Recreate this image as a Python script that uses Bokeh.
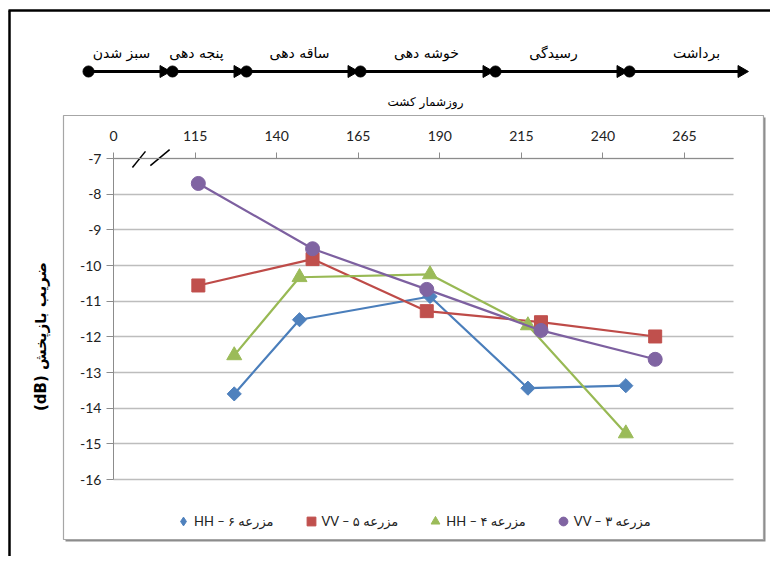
import math
from bokeh.plotting import figure
from bokeh.models import Range1d, FixedTicker, Legend, LegendItem
from bokeh.embed import file_html
from bokeh.resources import INLINE
from bokeh.core.properties import value

# ---------------- data ----------------
days_vv = [116, 151, 186, 221, 256]          # farms 3 and 5 (VV)
days_hh = [127, 147, 187, 217, 247]          # farms 4 and 6 (HH)
hh6 = [-13.60, -11.52, -10.87, -13.44, -13.37]
vv5 = [-10.56, -9.82, -11.28, -11.59, -11.99]
hh4 = [-12.52, -10.33, -10.25, -11.68, -14.71]
vv3 = [-7.70, -9.53, -10.67, -11.82, -12.63]
series_labels = ["HH – مزرعه ۶", "VV – مزرعه ۵", "HH – مزرعه ۴", "VV – مزرعه ۳"]

x_ticks = [90, 115, 140, 165, 190, 215, 240, 265]
x_tick_labels = ["0", "115", "140", "165", "190", "215", "240", "265"]
y_ticks = [-16, -15, -14, -13, -12, -11, -10, -9, -8, -7]
y_tick_labels = ["-16", "-15", "-14", "-13", "-12", "-11", "-10", "-9", "-8", "-7"]
y_title = "(dB) ضریب بازپخش"
x_min, x_max = 90, 280
y_min, y_max = -16, -7

# axis-break marks (data units)
brk_x0, brk_y0 = [95.8, 101.3], [-7.25, -7.20]
brk_x1, brk_y1 = [99.8, 107.2], [-6.80, -6.75]

# schematic growth-stage timeline (layout units, y downward)
stage_names = ["سبز شدن", "پنجه دهی", "ساقه دهی", "خوشه دهی", "رسیدگی", "برداشت"]
stage_dot_x = [88, 172, 246, 360, 495, 629]
timeline_end_x = 745
timeline_y = 71
stage_label_x = [121, 196, 299, 426, 553, 696]
stage_label_y = 52
timeline_caption = "روزشمار کشت"
caption_xy = (425, 101)

NUM_FONT = "Lato"
FA_FONT = "DejaVu Sans"

W, H = 770, 556
# plot-area placement inside the canvas (px)
PL, PR, PT, PB = 113, 733, 158, 479
sx = (x_max - x_min) / (PR - PL)
sy = (y_max - y_min) / (PB - PT)

p = figure(width=W, height=H,
           x_range=Range1d(x_min - PL * sx, x_max + (W - PR) * sx),
           y_range=Range1d(y_min - (H - PB) * sy, y_max + PT * sy),
           x_axis_location="above", output_backend="svg", toolbar_location=None,
           min_border=0)
p.extra_x_ranges = {"lay": Range1d(0, W)}
p.extra_y_ranges = {"lay": Range1d(H, 0)}
p.outline_line_color = None
p.xgrid.visible = False
p.ygrid.grid_line_color = "#bdbdbd"
p.ygrid.grid_line_width = 1.5
ygrid = p.ygrid[0]
if "cross_bounds" in ygrid.properties():
    ygrid.bounds = (y_min, y_max)
    ygrid.cross_bounds = (x_min, x_max)
else:
    ygrid.bounds = (x_min, x_max)

L = dict(x_range_name="lay", y_range_name="lay")

# chart box + shadow (beneath grid)
p.quad(left=[65], right=[765], top=[117], bottom=[541], fill_color="#8c8c8c",
       line_color=None, level="image", **L)
p.quad(left=[63], right=[763], top=[115], bottom=[539], fill_color="white",
       line_color="#a6a6a6", line_width=1.2, level="image", **L)

# page frame lines (top and left)
p.segment(x0=[8, 9], y0=[10, 10], x1=[W, 9], y1=[10, H], line_color="black", line_width=2.5, **L)

xa = p.xaxis[0]
xa.fixed_location = y_max
xa.bounds = (x_min, x_max)
xa.ticker = FixedTicker(ticks=x_ticks)
xa.major_label_overrides = {t: l for t, l in zip(x_ticks, x_tick_labels)}
xa.minor_tick_line_color = None
xa.major_tick_in = 0
xa.major_tick_out = 6
xa.axis_line_color = "#8c8c8c"
xa.major_tick_line_color = "#8c8c8c"
xa.major_label_text_font = NUM_FONT
xa.major_label_text_font_size = "14px"
xa.major_label_text_color = "#222222"
xa.major_label_standoff = 12

ya = p.yaxis[0]
ya.fixed_location = x_min
ya.bounds = (y_min, y_max)
ya.ticker = FixedTicker(ticks=y_ticks)
ya.major_label_overrides = {t: l for t, l in zip(y_ticks, y_tick_labels)}
ya.minor_tick_line_color = None
ya.major_tick_in = 0
ya.major_tick_out = 7
ya.axis_line_color = "#8c8c8c"
ya.major_tick_line_color = "#8c8c8c"
ya.major_label_text_font = NUM_FONT
ya.major_label_text_font_size = "14px"
ya.major_label_text_color = "#222222"
ya.major_label_standoff = 5

# timeline
p.segment(x0=[stage_dot_x[0]], y0=[timeline_y], x1=[timeline_end_x - 4], y1=[timeline_y],
          line_color="black", line_width=3, **L)
tips = [x - 5 for x in stage_dot_x[1:]] + [timeline_end_x]
p.scatter([t - 4 for t in tips], [timeline_y] * len(tips), marker="triangle", size=12,
          angle=-math.pi / 2, fill_color="black", line_color="black", **L)
p.scatter(stage_dot_x, [timeline_y] * len(stage_dot_x), marker="circle", size=11,
          fill_color="black", line_color="black", **L)
p.text(x=stage_label_x, y=[stage_label_y] * len(stage_names), text=stage_names,
       text_font=value(FA_FONT), text_font_size="14px", text_align="center",
       text_baseline="middle", text_color="black", **L)
p.text(x=[caption_xy[0]], y=[caption_xy[1]], text=[timeline_caption], text_font=value(FA_FONT),
       text_font_size="12px", text_align="center", text_baseline="middle",
       text_color="black", **L)

# y title
p.text(x=[40], y=[336], text=[y_title], angle=math.pi / 2, text_font=value(FA_FONT),
       text_font_style="bold", text_font_size="15px", text_align="center",
       text_baseline="middle", text_color="black", **L)

# axis break marks
p.segment(x0=brk_x0, y0=brk_y0, x1=brk_x1, y1=brk_y1, line_color="black", line_width=1.5)

specs = [
    (days_hh, hh6, "#4A7EBB", "#4F81BD", "diamond"),
    (days_vv, vv5, "#BE4B48", "#C0504D", "square"),
    (days_hh, hh4, "#98B954", "#9BBB59", "triangle"),
    (days_vv, vv3, "#7D60A0", "#8064A2", "circle"),
]
sizes = {"diamond": 12, "square": 13, "triangle": 15, "circle": 14}
items = []
for (xv, yv, lc, mc, mk), lab in zip(specs, series_labels):
    p.line(xv, yv, line_color=lc, line_width=2.2)
    r = p.scatter(xv, yv, marker=mk, size=sizes[mk], fill_color=mc, line_color=mc)
    if mk == "diamond":
        # square-looking diamond drawn over the legend-facing diamond marker
        p.scatter(xv, yv, marker="square", size=10, angle=math.pi / 4,
                  fill_color=mc, line_color=mc)
    items.append(LegendItem(label=lab, renderers=[r]))

legend = Legend(items=items, orientation="horizontal", location=(172, H - 532),
                border_line_color=None, background_fill_alpha=0, padding=4, margin=0,
                spacing=26, glyph_width=22, glyph_height=22, label_standoff=0,
                label_text_font="Lato, DejaVu Sans", label_text_font_size="13px",
                label_text_color="#222222")
p.add_layout(legend, "center")

open("out.html", "w").write(file_html(p, INLINE))
